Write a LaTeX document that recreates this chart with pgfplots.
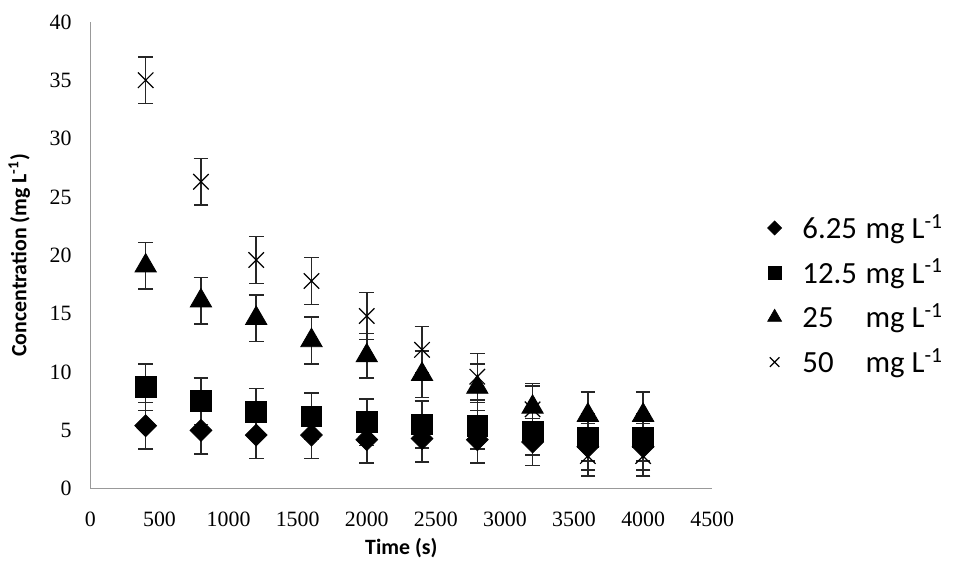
\documentclass[border=0pt]{standalone}
\usepackage{fontspec}
\setmainfont{Liberation Serif}
\newfontfamily\calfont{Carlito}
\usepackage{pgfplots}
\usepackage{pgfplotstable}
\pgfplotsset{compat=1.18}
\pgfplotstableread{
x y e
400 5.4 2
800 5.0 2
1200 4.6 2
1600 4.6 2
2000 4.2 2
2400 4.3 2
2800 4.2 2
3200 4.0 2
3600 3.6 2
4000 3.6 2
}\dA
\pgfplotstableread{
x y e
400 8.7 2
800 7.5 2
1200 6.6 2
1600 6.2 2
2000 5.7 2
2400 5.5 2
2800 5.4 2
3200 4.9 2
3600 4.4 2
4000 4.4 2
}\dB
\pgfplotstableread{
x y e
400 19.1 2
800 16.1 2
1200 14.6 2
1600 12.7 2
2000 11.4 1.9
2400 9.8 2
2800 8.7 2
3200 7.0 2
3600 6.3 2
4000 6.3 2
}\dC
\pgfplotstableread{
x y e
400 35.0 2
800 26.3 2
1200 19.6 2
1600 17.8 2
2000 14.8 2
2400 11.9 2
2800 9.6 2
3200 6.8 2
3600 2.8 1.7
4000 2.8 1.7
}\dD
\begin{document}
\begin{tikzpicture}
\begin{axis}[
  name=ax,
  scale only axis, width=313pt, height=235pt,
  xmin=0, xmax=4500, ymin=0, ymax=40,
  xtick={0,500,...,4500}, ytick={0,5,...,40},
  axis x line*=bottom, axis y line*=left,
  axis line style={-, draw=black!40, line width=0.7pt},
  major tick length=0pt,
  /pgf/number format/assume math mode=true,
  /pgf/number format/1000 sep={},
  tick label style={font=\fontsize{11}{13}\selectfont},
  xticklabel style={yshift=-8pt},
  yticklabel style={xshift=-6pt},
  xlabel={\calfont\bfseries Time (s)},
  ylabel={\calfont\bfseries Concentration (mg L\textsuperscript{-1})},
  label style={font=\fontsize{11}{13}\selectfont},
  xlabel style={yshift=1pt},
  ylabel style={yshift=3pt},
  legend style={draw=none, at={(1.079,0.415)}, anchor=west,
    font=\calfont\fontsize{15.5}{18.5}\selectfont, row sep=4.8pt,
    /tikz/every odd column/.append style={column sep=8.5pt}},
  legend cell align=left,
  error bars/error bar style={black!85, line width=0.8pt},
  error bars/error mark options={rotate=90, mark size=3.7pt, line width=0.8pt},
]
\addplot[only marks, mark=diamond*, mark size=5.5pt, black,
  mark options={xscale=1.33},
  legend image post style={mark size=3.5pt},
  error bars/.cd, y dir=both, y explicit]
  table[x=x, y=y, y error=e]{\dA};
\addlegendentry{\makebox[2.05em][l]{6.25}mg L\textsuperscript{-1}}
\addplot[only marks, mark=square*, mark size=5.2pt, black,
  legend image post style={mark size=3.3pt},
  error bars/.cd, y dir=both, y explicit]
  table[x=x, y=y, y error=e]{\dB};
\addlegendentry{\makebox[2.05em][l]{12.5}mg L\textsuperscript{-1}}
\addplot[only marks, mark=triangle*, mark size=6.2pt, black,
  legend image post style={mark size=4pt},
  error bars/.cd, y dir=both, y explicit]
  table[x=x, y=y, y error=e]{\dC};
\addlegendentry{\makebox[2.05em][l]{25}mg L\textsuperscript{-1}}
\addplot[only marks, mark=x, mark size=5.5pt, black, mark options={line width=0.6pt},
  legend image post style={mark size=3.4pt},
  error bars/.cd, y dir=both, y explicit]
  table[x=x, y=y, y error=e]{\dD};
\addlegendentry{\makebox[2.05em][l]{50}mg L\textsuperscript{-1}}
\end{axis}
\path (ax.south west) ++(-45.5pt,-38pt) (ax.north east) ++(118pt,11pt);
\end{tikzpicture}
\end{document}
